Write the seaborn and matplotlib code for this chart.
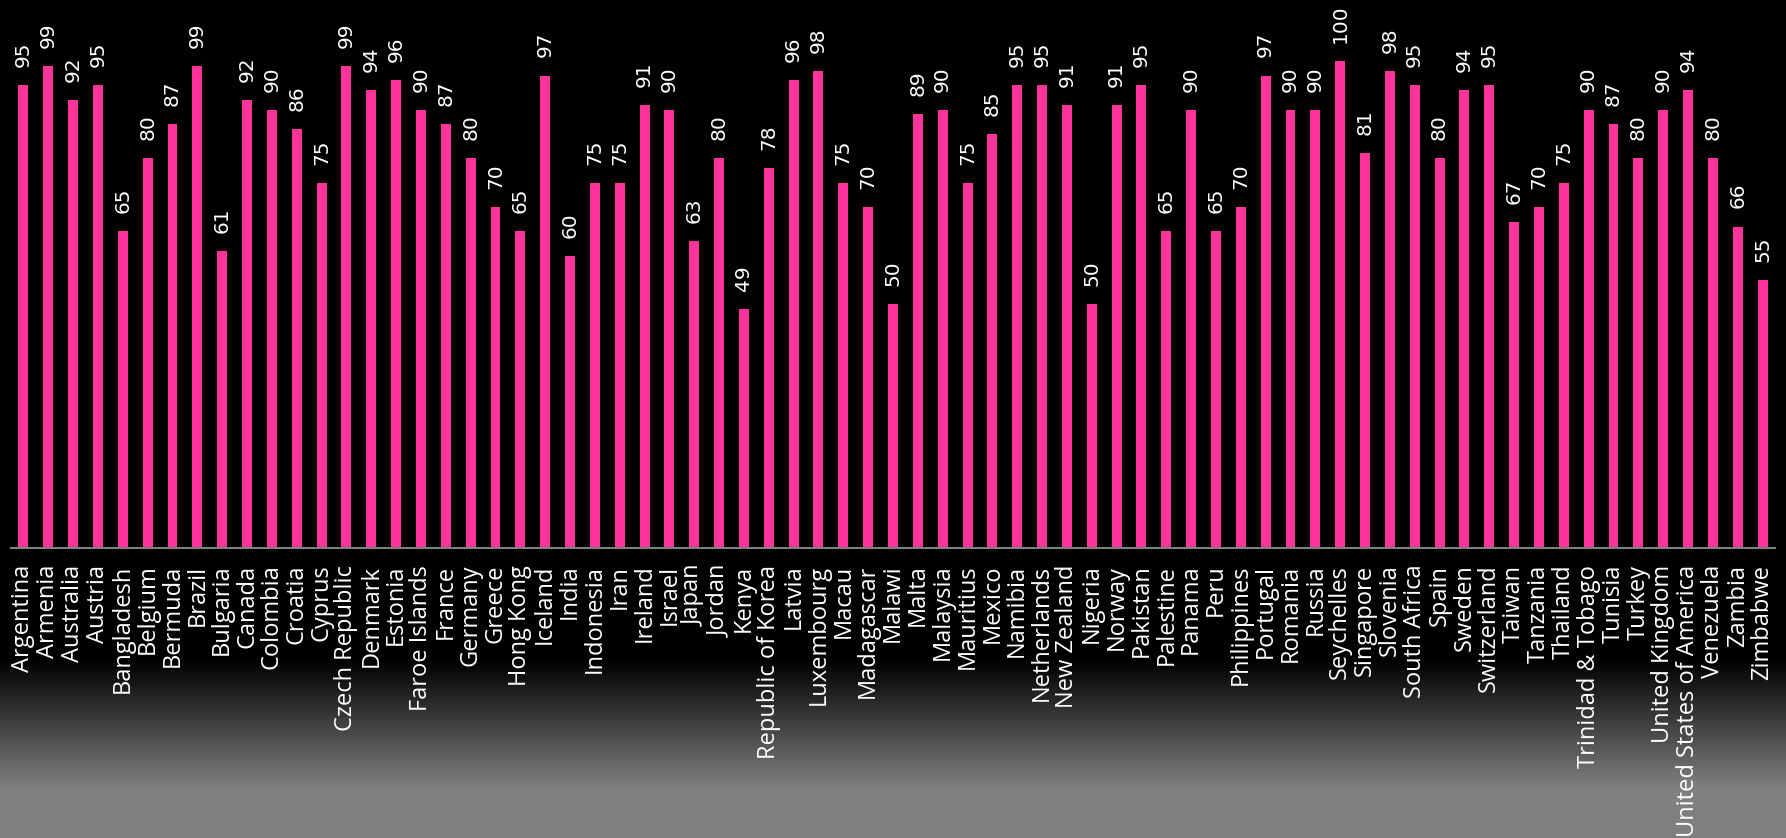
import numpy as np
import pandas as pd
import seaborn as sns
import matplotlib.pyplot as plt

paises = ['Argentina', 'Armenia', 'Australia', 'Austria', 'Bangladesh', 'Belgium',
          'Bermuda', 'Brazil', 'Bulgaria', 'Canada', 'Colombia', 'Croatia', 'Cyprus',
          'Czech Republic', 'Denmark', 'Estonia', 'Faroe Islands', 'France', 'Germany',
          'Greece', 'Hong Kong', 'Iceland', 'India', 'Indonesia', 'Iran', 'Ireland',
          'Israel', 'Japan', 'Jordan', 'Kenya', 'Republic of Korea', 'Latvia',
          'Luxembourg', 'Macau', 'Madagascar', 'Malawi', 'Malta', 'Malaysia',
          'Mauritius', 'Mexico', 'Namibia', 'Netherlands', 'New Zealand', 'Nigeria',
          'Norway', 'Pakistan', 'Palestine', 'Panama', 'Peru', 'Philippines',
          'Portugal', 'Romania', 'Russia', 'Seychelles', 'Singapore', 'Slovenia',
          'South Africa', 'Spain', 'Sweden', 'Switzerland', 'Taiwan', 'Tanzania',
          'Thailand', 'Trinidad & Tobago', 'Tunisia', 'Turkey', 'United Kingdom',
          'United States of America', 'Venezuela', 'Zambia', 'Zimbabwe']

valores = [95, 99, 92, 95, 65, 80, 87, 99, 61, 92, 90, 86, 75, 99, 94, 96, 90, 87, 80,
           70, 65, 97, 60, 75, 75, 91, 90, 63, 80, 49, 78, 96, 98, 75, 70, 50, 89, 90,
           75, 85, 95, 95, 91, 50, 91, 95, 65, 90, 65, 70, 97, 90, 90, 100, 81, 98, 95,
           80, 94, 95, 67, 70, 75, 90, 87, 80, 90, 94, 80, 66, 55]

df = pd.DataFrame({'pais': paises, 'valor': valores})

rosa = '#FF3399'

sns.set_style('white')
plt.rcParams['font.family'] = ['Open Sans', 'DejaVu Sans']

fig = plt.figure(figsize=(17.86, 8.38), dpi=100)

# fondo: negro arriba, degradado a gris abajo
fondo = fig.add_axes([0, 0, 1, 1], zorder=-1)
filas = np.arange(838)
gris = np.interp(filas, [0, 660, 787, 838], [0.0, 0.0, 0.5, 0.5])
fondo.imshow(np.repeat(gris[:, None], 4, axis=1)[:, :, None].repeat(3, axis=2),
             aspect='auto', extent=[0, 1, 0, 1])
fondo.axis('off')

ax = fig.add_axes([11 / 1786, 290 / 838, 1764 / 1786, 548 / 838])
ax.set_facecolor('none')

sns.barplot(data=df, x='pais', y='valor', color=rosa, saturation=1, width=0.4,
            linewidth=0, ax=ax)

# etiquetas de valor encima de cada barra (fuente por defecto)
for cont in ax.containers:
    ax.bar_label(cont, labels=[str(v) for v in valores], rotation=90, padding=13,
                 color='white', fontsize=14.5, family='DejaVu Sans')

ax.set_ylim(0, 112.5)
ax.set_xlim(-0.5, len(paises) - 0.5)
ax.set_xlabel('')
ax.set_ylabel('')
ax.set_yticks([])
ax.tick_params(axis='x', length=0, pad=12, labelsize=17, labelcolor='white',
               rotation=90)
for s in ['top', 'right', 'left']:
    ax.spines[s].set_visible(False)
ax.spines['bottom'].set_color('#808080')
ax.spines['bottom'].set_linewidth(1.5)

fig.savefig('out.png', dpi=100)
